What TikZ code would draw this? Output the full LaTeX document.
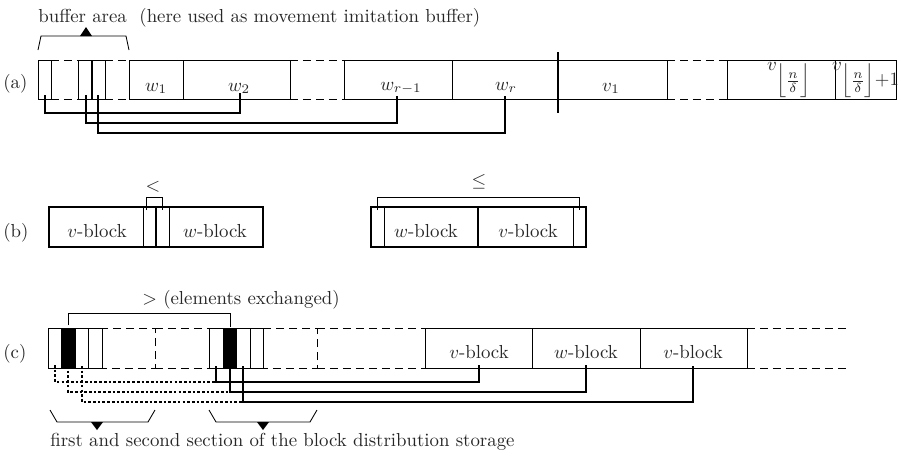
\documentclass[tikz,border=0pt]{standalone}
\usepackage{amsmath}
\begin{document}
\begin{tikzpicture}[x=0.531pt,y=-0.531pt]
\tikzset{
 cellline/.style={line width=0.45pt},
 dashline/.style={line width=0.45pt, dash pattern=on 4.2pt off 2.7pt},
 heavyline/.style={line width=1.1pt},
 conn/.style={line width=1.3pt},
 dotconn/.style={line width=1.3pt, dash pattern=on 1.4pt off 1.1pt},
 brk/.style={line width=0.45pt},
 lbl/.style={inner sep=0pt, anchor=base, text=black!85},
 lblw/.style={inner sep=0pt, anchor=base west, text=black!85},
}
\useasboundingbox (0,0) rectangle (901,455);

% ---------------- row (a) ----------------
\node[lblw] (la) at (3,88) {(a)};
\node[lblw] (buf) at (38,22) {buffer area\ \ (here used as movement imitation buffer)};
\draw[brk] (38,50) -- (41,36) -- (126,36) -- (129,50);
\fill (80,36) -- (86,27) -- (92,36) -- cycle;

\draw[cellline] (38,60) rectangle (51,99);
\draw[dashline] (51,60) -- (78,60) (51,99) -- (78,99);
\draw[cellline] (78,60) rectangle (105,99);
\draw[heavyline] (92,60) -- (92,99);
\draw[dashline] (105,60) -- (129,60) (105,99) -- (129,99);
\draw[cellline] (129,60) rectangle (290,99) (183,60) -- (183,99);
\draw[dashline] (290,60) -- (344,60) (290,99) -- (344,99);
\draw[cellline] (344,60) rectangle (558,99) (452,60) -- (452,99);
\draw[cellline] (558,60) rectangle (667,99);
\draw[dashline] (667,60) -- (727,60) (667,99) -- (727,99);
\draw[cellline] (727,60) rectangle (896,99) (835,60) -- (835,99);
\draw[heavyline] (558,52) -- (558,113);

\node[lbl] (w1) at (156,91) {$w_1$};
\node[lbl] (w2) at (239,91) {$w_2$};
\node[lbl] (wr1) at (401,90) {$w_{r-1}$};
\node[lbl] (wr) at (506,90) {$w_r$};
\node[lbl] (v1) at (611,91) {$v_1$};
\node[lbl] (vn) at (789,70.5) {$v_{\textstyle\Big\lfloor\frac{n}{\delta}\Big\rfloor}$};
\node[lbl] (vn1) at (866,70.5) {$v_{\textstyle\Big\lfloor\frac{n}{\delta}\Big\rfloor\mathord{+}1}$};

\coordinate (a1s) at (45,95);  \coordinate (a1e) at (240,93);
\coordinate (a2s) at (86,95);  \coordinate (a2e) at (397,96);
\coordinate (a3s) at (98,95);  \coordinate (a3e) at (505,96);
\draw[conn] (a1s) -- ++(0,18) -| (a1e);
\draw[conn] (a2s) -- ++(0,28) -| (a2e);
\draw[conn] (a3s) -- ++(0,38) -| (a3e);

% ---------------- row (b) ----------------
\node[lblw] (lb) at (3,237.5) {(b)};
\draw[heavyline] (49,207) rectangle (263,247);
\draw[cellline] (143,207) -- (143,247) (169,207) -- (169,247);
\draw[heavyline] (156,207) -- (156,247);
\node[lbl] (bv1) at (97,237) {$v$-block};
\node[lbl] (bw1) at (215,237) {$w$-block};
\draw[brk] (146,210) -- (146,197) -- (162,197) -- (162,210);
\node[lbl] (lt) at (153,191) {$<$};

\draw[heavyline] (371,207) rectangle (586,247);
\draw[cellline] (384,207) -- (384,247) (573,207) -- (573,247);
\draw[heavyline] (478,207) -- (478,247);
\node[lbl] (bw2) at (426,237) {$w$-block};
\node[lbl] (bv2) at (528,237) {$v$-block};
\draw[brk] (377,210) -- (377,197) -- (579,197) -- (579,210);
\node[lbl] (le) at (479,186.5) {$\leq$};

% ---------------- row (c) ----------------
\node[lblw] (lc) at (3,358) {(c)};
\node[lblw] (gt) at (142,304) {$>$ (elements exchanged)};
\draw[brk] (68,325) -- (68,313) -- (230,313) -- (230,327);

% section 1
\draw[dashline] (48,328) rectangle (155,368);
\fill (61,328) rectangle (75,368);
\draw[cellline] (48,328) rectangle (102,368) (61,328) -- (61,368) (75,328) -- (75,368) (88,328) -- (88,368);
\draw[dashline] (155,328) -- (209,328) (155,368) -- (209,368);
% section 2
\draw[dashline] (209,328) rectangle (317,368);
\fill (223,328) rectangle (236,368);
\draw[cellline] (209,328) rectangle (263,368) (223,328) -- (223,368) (236,328) -- (236,368) (250,328) -- (250,368);
\draw[dashline] (317,328) -- (425,328) (317,368) -- (425,368);
% blocks
\draw[cellline] (425,328) rectangle (747,368) (532,328) -- (532,368) (640,328) -- (640,368);
\draw[dashline] (747,328) -- (848,328) (747,368) -- (848,368);
\node[lbl] (cv1) at (479,358) {$v$-block};
\node[lbl] (cw1) at (586,358) {$w$-block};
\node[lbl] (cv2) at (693,358) {$v$-block};

\coordinate (c1s) at (55,365);  \coordinate (c1m) at (216,366);  \coordinate (c1e) at (479,365);
\coordinate (c2s) at (68,366);  \coordinate (c2m) at (230,366);  \coordinate (c2e) at (586,365);
\coordinate (c3s) at (82,366);  \coordinate (c3m) at (243,366);  \coordinate (c3e) at (693,366);
\draw[dotconn] (c1s) -- ++(0,17) -| (c1m);
\draw[dotconn] (c2s) -- ++(0,26) -| (c2m);
\draw[dotconn] (c3s) -- ++(0,36) -| (c3m);
\draw[conn] (c1m) -- ++(0,16) -| (c1e);
\draw[conn] (c2m) -- ++(0,26) -| (c2e);
\draw[conn] (c3m) -- ++(0,36) -| (c3e);

% lower braces
\draw[brk] (50,410) -- (57,422) -- (148,422) -- (155,410);
\fill (91,422) -- (103,422) -- (97,430) -- cycle;
\draw[brk] (209,410) -- (216,422) -- (310,422) -- (317,410);
\fill (257,422) -- (269,422) -- (263,430) -- cycle;
\node[lblw] (store) at (50,446) {first and second section of the block distribution storage};
\end{tikzpicture}
\end{document}
